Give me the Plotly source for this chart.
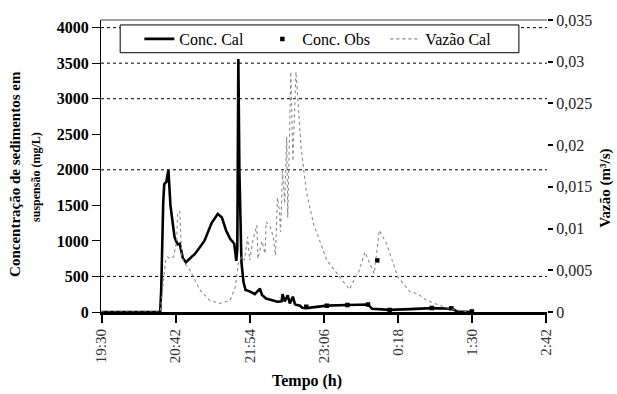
import plotly.graph_objects as go

# ---------------- data ----------------
START = "19:30"
tick_labels = ["19:30", "20:42", "21:54", "23:06", "0:18", "1:30", "2:42"]

conc_cal_time = ["19:30", "20:27", "20:28", "20:29", "20:30", "20:31", "20:33", "20:35", "20:37", "20:41",
                 "20:44", "20:46", "20:49", "20:52", "21:01", "21:10", "21:17", "21:23", "21:27", "21:31",
                 "21:35", "21:39", "21:41", "21:42", "21:43", "21:44", "21:46", "21:48", "21:50", "21:54",
                 "21:59", "22:04", "22:06", "22:10", "22:14", "22:21", "22:25", "22:26", "22:28", "22:31",
                 "22:33", "22:36", "22:38", "22:39", "22:43", "22:45", "22:49", "22:57", "23:09", "23:29",
                 "23:49", "23:53", "0:10", "0:30", "0:51", "1:11", "1:16", "1:30"]
conc_cal = [0, 0, 300, 1150, 1550, 1800, 1830, 2000, 1500, 1050,
            950, 960, 760, 700, 820, 1000, 1250, 1380, 1330, 1150,
            1030, 960, 720, 900, 3560, 2000, 700, 420, 310, 290,
            250, 330, 240, 190, 170, 145, 150, 250, 150, 235,
            120, 215, 110, 100, 90, 60, 55, 70, 90, 98,
            105, 45, 30, 40, 55, 45, 5, 0]

conc_obs_time = ["22:49", "23:09", "23:29", "23:49", "23:58", "0:10", "0:51", "1:10", "1:30"]
conc_obs = [74, 88, 98, 105, 726, 28, 56, 52, 8]

vazao_time = ["19:30", "20:27", "20:30", "20:32", "20:34", "20:37", "20:40", "20:41", "20:43", "20:44",
              "20:46", "20:48", "20:51", "20:56", "21:06", "21:15", "21:25", "21:35", "21:40", "21:43",
              "21:46", "21:49", "21:52", "21:54", "21:57", "22:01", "22:02", "22:06", "22:09", "22:10",
              "22:14", "22:17", "22:19", "22:21", "22:23", "22:24", "22:26", "22:28", "22:30", "22:31",
              "22:33", "22:34", "22:36", "22:38", "22:39", "22:41", "22:44", "22:49", "22:56", "23:09",
              "23:22", "23:31", "23:36", "23:40", "23:46", "23:55", "0:00", "0:07", "0:18", "0:30",
              "0:37", "0:46", "1:03", "1:12", "1:28"]
vazao_cal = [0.0, 0.0, 0.0034, 0.0060, 0.0066, 0.0064, 0.0066, 0.0072, 0.0085, 0.0118,
             0.0121, 0.0066, 0.0058, 0.0050, 0.0026, 0.0014, 0.00103, 0.0014, 0.0030, 0.0058,
             0.0066, 0.0062, 0.0090, 0.0062, 0.0085, 0.0104, 0.0064, 0.0085, 0.0070, 0.0108,
             0.0102, 0.0090, 0.0068, 0.0137, 0.0120, 0.0096, 0.0169, 0.0130, 0.0210, 0.0113,
             0.0220, 0.0288, 0.0181, 0.0260, 0.0288, 0.0252, 0.0197, 0.0145, 0.0106, 0.0062,
             0.0042, 0.0027, 0.0040, 0.0048, 0.0072, 0.0046, 0.0098, 0.0082, 0.0042, 0.0024,
             0.0022, 0.0014, 0.0006, 0.0003, 0.0]

left_ticks = [0, 500, 1000, 1500, 2000, 2500, 3000, 3500, 4000]
right_ticks = [0, 0.005, 0.01, 0.015, 0.02, 0.025, 0.03, 0.035]
right_tick_text = ["0", "0,005", "0,01", "0,015", "0,02", "0,025", "0,03", "0,035"]
grid_values = [500, 2000, 3000, 3500, 4000]


def to_min(s):
    h, m = map(int, s.split(":"))
    sh, sm = map(int, START.split(":"))
    t = h * 60 + m - (sh * 60 + sm)
    if t < 0:
        t += 24 * 60
    return t


SERIF = "Liberation Serif"

fig = go.Figure()
fig.add_trace(go.Scatter(x=[to_min(t) for t in conc_cal_time], y=conc_cal, name="Conc. Cal",
                         mode="lines", line=dict(color="black", width=2.6)))
fig.add_trace(go.Scatter(x=[to_min(t) for t in conc_obs_time], y=conc_obs, name="Conc. Obs",
                         mode="markers", marker=dict(symbol="square", color="black", size=4.5)))
fig.add_trace(go.Scatter(x=[to_min(t) for t in vazao_time], y=vazao_cal, name="Vazão Cal",
                         mode="lines", yaxis="y2", line=dict(color="#8a8a8a", width=1.1, dash="dot")))

shapes = []
for g in grid_values:
    shapes.append(dict(type="line", xref="paper", x0=0, x1=1, yref="y", y0=g, y1=g,
                       line=dict(color="black", width=1, dash="dot"), layer="below"))
# top frame
shapes.append(dict(type="line", xref="paper", x0=0, x1=1, yref="paper", y0=1, y1=1,
                   line=dict(color="#444", width=1)))
# legend box
shapes.append(dict(type="rect", xref="paper", yref="paper", x0=0.043, x1=0.937, y0=0.888, y1=0.983,
                   line=dict(color="black", width=1), fillcolor="white", layer="above"))

fig.update_layout(
    width=617, height=394,
    margin=dict(l=101, r=70, t=18, b=82),
    paper_bgcolor="white", plot_bgcolor="white",
    font=dict(family=SERIF, color="black", size=15),
    showlegend=True,
    legend=dict(orientation="h", x=0.086, y=0.935, xanchor="left", yanchor="middle",
                bgcolor="rgba(0,0,0,0)", borderwidth=0, font=dict(family=SERIF, size=16),
                entrywidth=78, tracegroupgap=0),
    shapes=shapes,
    xaxis=dict(range=[-0.5, 433], tickmode="array", tickvals=[to_min(t) for t in tick_labels],
               ticktext=tick_labels, tickangle=-90, ticks="outside", ticklen=8, tickwidth=2,
               tickcolor="black", showline=True, linecolor="black", linewidth=3, showgrid=False,
               zeroline=False, tickfont=dict(family=SERIF, size=15, color="#333")),
    yaxis=dict(range=[0, 4107], tickmode="array", tickvals=left_ticks,
               ticktext=["<b>%d</b>" % v for v in left_ticks], ticks="outside", ticklen=8, tickwidth=1,
               tickcolor="black", showline=True, linecolor="black", linewidth=1, showgrid=False,
               zeroline=False, tickfont=dict(family=SERIF, size=16, color="black")),
    yaxis2=dict(range=[0, 0.035], overlaying="y", side="right", tickmode="array", tickvals=right_ticks,
                ticktext=right_tick_text, ticks="outside", ticklen=5, tickwidth=2, tickcolor="black",
                showline=False, showgrid=False, zeroline=False,
                tickfont=dict(family=SERIF, size=16, color="#222")),
    annotations=[
        dict(text="<b>Tempo (h)</b>", xref="paper", yref="paper", x=0.462, y=-0.235,
             xanchor="center", yanchor="middle", showarrow=False, font=dict(size=16)),
        dict(text="<b>Concentração de sedimentos em</b>", xref="paper", yref="paper",
             x=(15 - 101) / 446, y=(312 - 173) / 294, textangle=-90, xanchor="center",
             yanchor="middle", showarrow=False, font=dict(size=15)),
        dict(text="<b>suspensão (mg/L)</b>", xref="paper", yref="paper",
             x=(36 - 101) / 446, y=(312 - 176) / 294, textangle=-90, xanchor="center",
             yanchor="middle", showarrow=False, font=dict(size=12)),
        dict(text="<b>Vazão (m³/s)</b>", xref="paper", yref="paper",
             x=(606 - 101) / 446, y=(312 - 188) / 294, textangle=-90, xanchor="center",
             yanchor="middle", showarrow=False, font=dict(size=15)),
    ],
)

fig.write_html("out.html", config={"displayModeBar": False},
               post_script="document.body.style.margin='0';")
